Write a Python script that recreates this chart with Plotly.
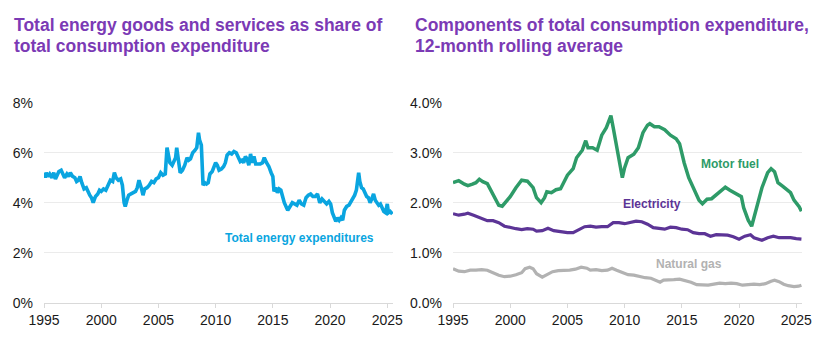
import plotly.graph_objects as go

# ---------------- Data ----------------
# Left panel: total energy goods & services share of total consumption expenditure (%)
total_years = [
    1995.0, 1995.1, 1995.2, 1995.35, 1995.5, 1995.7, 1995.85, 1996.0, 1996.15, 1996.3, 1996.5, 1996.65, 1996.8,
    1997.0, 1997.15, 1997.3, 1997.5, 1997.7, 1997.85, 1998.0, 1998.15, 1998.3, 1998.5, 1998.7, 1998.85,
    1999.0, 1999.15, 1999.3, 1999.5, 1999.7, 1999.85, 2000.0, 2000.2, 2000.4, 2000.6, 2000.8, 2001.0,
    2001.15, 2001.3, 2001.5, 2001.7, 2001.85, 2002.0, 2002.1, 2002.25, 2002.4, 2002.6, 2002.8, 2003.0,
    2003.15, 2003.3, 2003.5, 2003.65, 2003.8, 2004.0, 2004.2, 2004.4, 2004.6, 2004.8, 2005.0, 2005.2,
    2005.4, 2005.6, 2005.75, 2005.85, 2006.0, 2006.2, 2006.35, 2006.5, 2006.6, 2006.75, 2006.9, 2007.1,
    2007.3, 2007.5, 2007.65, 2007.8, 2008.0, 2008.2, 2008.35, 2008.5, 2008.6, 2008.75, 2008.9, 2009.05,
    2009.2, 2009.35, 2009.5, 2009.7, 2009.85, 2010.0, 2010.15, 2010.3, 2010.5, 2010.7, 2010.85, 2011.0,
    2011.2, 2011.4, 2011.6, 2011.8, 2012.0, 2012.15, 2012.3, 2012.45, 2012.6, 2012.75, 2012.9, 2013.05,
    2013.2, 2013.35, 2013.5, 2013.7, 2013.9, 2014.1, 2014.25, 2014.45, 2014.65, 2014.85, 2015.0, 2015.1,
    2015.25, 2015.4, 2015.55, 2015.7, 2015.85, 2016.0, 2016.15, 2016.3, 2016.5, 2016.7, 2016.9, 2017.1,
    2017.3, 2017.5, 2017.7, 2017.9, 2018.1, 2018.3, 2018.5, 2018.7, 2018.9, 2019.1, 2019.3, 2019.5,
    2019.7, 2019.9, 2020.05, 2020.2, 2020.35, 2020.5, 2020.65, 2020.8, 2020.95, 2021.1, 2021.25, 2021.45,
    2021.65, 2021.85, 2022.0, 2022.15, 2022.3, 2022.4, 2022.5, 2022.6, 2022.75, 2022.9, 2023.05, 2023.2,
    2023.35, 2023.5, 2023.65, 2023.8, 2023.95, 2024.1, 2024.25, 2024.4, 2024.55, 2024.7, 2024.85, 2025.0,
    2025.1, 2025.25, 2025.35, 2025.45,
]
total_share = [
    5.2, 5.0, 5.2, 5.05, 5.15, 5.0, 5.2, 4.95, 5.1, 5.25, 5.3, 5.1, 5.0,
    5.15, 5.05, 5.2, 5.05, 5.0, 4.85, 4.9, 5.05, 4.8, 4.55, 4.6, 4.4,
    4.3, 4.2, 4.0, 4.25, 4.35, 4.5, 4.45, 4.55, 4.5, 4.7, 4.9, 4.85,
    5.2, 5.0, 4.9, 4.95, 4.7, 4.0, 3.85, 4.1, 4.3, 4.35, 4.4, 4.45,
    4.6, 4.9, 4.6, 4.3, 4.55, 4.6, 4.7, 4.85, 4.8, 4.95, 5.0, 5.2,
    5.1, 5.15, 6.2, 5.9, 5.6, 5.5, 5.7, 5.8, 6.2, 5.7, 5.2, 5.3,
    5.5, 5.8, 5.7, 5.75, 6.0, 6.1, 6.2, 6.8, 6.5, 6.3, 4.7, 4.8,
    4.75, 4.8, 5.15, 5.25, 5.4, 5.6, 5.5, 5.3, 5.35, 5.45, 5.6, 5.9,
    6.0, 5.95, 6.05, 6.0, 5.8, 5.65, 5.7, 5.6, 5.85, 5.75, 5.5, 5.95,
    5.6, 5.85, 5.55, 5.55, 5.55, 5.6, 5.8, 5.6, 5.45, 5.2, 5.05, 4.45,
    4.6, 4.4, 4.55, 4.5, 4.2, 4.0, 3.85, 3.7, 3.85, 4.0, 3.95, 3.9,
    4.1, 3.95, 3.9, 4.2, 4.3, 4.35, 4.25, 4.25, 4.35, 4.0, 4.15, 4.05,
    3.95, 4.05, 3.95, 3.6, 3.4, 3.25, 3.4, 3.3, 3.4, 3.3, 3.7, 3.85,
    3.9, 4.05, 4.15, 4.3, 4.5, 4.9, 5.2, 4.85, 4.6, 4.55, 4.4, 4.25,
    4.2, 4.0, 4.15, 4.35, 4.1, 4.0, 3.9, 3.95, 3.75, 3.65, 3.6, 3.95,
    3.6, 3.65, 3.6, 3.55,
]

# Right panel: components, 12-month rolling average (%)
fuel_years = [
    1995.0, 1995.5, 1996.0, 1996.3, 1996.7, 1997.0, 1997.3, 1997.6, 1998.0, 1998.5, 1999.0, 1999.3,
    2000.0, 2000.5, 2001.0, 2001.5, 2002.0, 2002.3, 2002.7, 2003.0, 2003.2, 2003.6, 2004.0, 2004.4,
    2005.0, 2005.5, 2005.8, 2006.3, 2006.6, 2006.8, 2007.2, 2007.6, 2008.0, 2008.4, 2008.8, 2009.0,
    2009.5, 2009.8, 2010.0, 2010.3, 2010.8, 2011.2, 2011.6, 2012.0, 2012.2, 2012.6, 2013.0, 2013.5,
    2014.0, 2014.5, 2014.8, 2015.2, 2015.6, 2016.0, 2016.5, 2016.8, 2017.2, 2017.6, 2018.0, 2018.4,
    2018.8, 2019.2, 2019.6, 2020.0, 2020.2, 2020.4, 2020.8, 2021.1, 2021.5, 2022.0, 2022.5, 2022.8,
    2023.1, 2023.4, 2023.8, 2024.2, 2024.5, 2024.8, 2025.0, 2025.25, 2025.45,
]
fuel_share = [
    2.40, 2.44, 2.37, 2.34, 2.37, 2.40, 2.47, 2.42, 2.38, 2.15, 1.95, 1.93,
    2.12, 2.30, 2.45, 2.43, 2.30, 2.10, 2.00, 2.10, 2.22, 2.20, 2.26, 2.28,
    2.55, 2.68, 2.90, 3.05, 3.24, 3.10, 3.10, 3.05, 3.35, 3.50, 3.74, 3.50,
    2.90, 2.50, 2.70, 2.90, 2.97, 3.10, 3.40, 3.55, 3.58, 3.52, 3.52, 3.46,
    3.35, 3.28, 3.18, 2.80, 2.50, 2.28, 2.05, 1.98, 2.07, 2.08, 2.16, 2.22,
    2.31, 2.25, 2.20, 2.15, 2.12, 1.90, 1.65, 1.53, 1.90, 2.30, 2.60, 2.68,
    2.62, 2.40, 2.33, 2.25, 2.20, 2.05, 2.00, 1.92, 1.83,
]

elec_years = [
    1995.0, 1995.5, 1996.0, 1996.3, 1996.8, 1997.3, 1998.0, 1998.5, 1999.0, 1999.5, 2000.0, 2000.5,
    2001.0, 2001.5, 2002.0, 2002.3, 2002.8, 2003.3, 2003.8, 2004.5, 2005.0, 2005.5, 2006.0, 2006.5,
    2007.0, 2007.5, 2008.0, 2008.5, 2009.0, 2009.5, 2010.0, 2010.5, 2011.0, 2011.5, 2012.0, 2012.5,
    2013.0, 2013.5, 2014.0, 2014.5, 2015.0, 2015.5, 2016.0, 2016.5, 2017.0, 2017.5, 2018.0, 2018.5,
    2019.0, 2019.5, 2020.0, 2020.5, 2021.0, 2021.3, 2021.8, 2022.0, 2022.5, 2023.0, 2023.5, 2024.0,
    2024.5, 2025.0, 2025.45,
]
elec_share = [
    1.78, 1.75, 1.77, 1.79, 1.75, 1.70, 1.64, 1.64, 1.60, 1.53, 1.50, 1.48,
    1.46, 1.48, 1.47, 1.43, 1.44, 1.49, 1.44, 1.41, 1.40, 1.40, 1.46, 1.52,
    1.53, 1.51, 1.52, 1.52, 1.60, 1.60, 1.58, 1.60, 1.63, 1.62, 1.57, 1.50,
    1.48, 1.47, 1.51, 1.50, 1.47, 1.46, 1.40, 1.38, 1.38, 1.33, 1.36, 1.36,
    1.35, 1.32, 1.27, 1.33, 1.36, 1.30, 1.26, 1.25, 1.30, 1.33, 1.30, 1.30,
    1.30, 1.28, 1.27,
]

gas_years = [
    1995.0, 1995.5, 1996.0, 1996.5, 1997.0, 1997.5, 1998.0, 1998.5, 1999.0, 1999.5, 2000.0, 2000.5,
    2001.0, 2001.3, 2001.7, 2002.0, 2002.3, 2002.8, 2003.2, 2003.7, 2004.2, 2004.7, 2005.2, 2005.7,
    2006.2, 2006.7, 2007.0, 2007.5, 2008.0, 2008.5, 2008.9, 2009.3, 2009.8, 2010.3, 2010.8, 2011.3,
    2011.8, 2012.3, 2012.8, 2013.1, 2013.4, 2013.8, 2014.3, 2014.8, 2015.3, 2015.8, 2016.3, 2016.8,
    2017.3, 2017.8, 2018.3, 2018.8, 2019.3, 2019.8, 2020.3, 2020.8, 2021.3, 2021.8, 2022.3, 2022.8,
    2023.1, 2023.5, 2023.9, 2024.3, 2024.8, 2025.2, 2025.45,
]
gas_share = [
    0.68, 0.63, 0.62, 0.65, 0.65, 0.66, 0.65, 0.60, 0.55, 0.52, 0.53, 0.56,
    0.60, 0.68, 0.71, 0.68, 0.58, 0.51, 0.56, 0.62, 0.64, 0.64, 0.65, 0.67,
    0.71, 0.69, 0.65, 0.66, 0.64, 0.65, 0.69, 0.65, 0.60, 0.56, 0.55, 0.52,
    0.50, 0.49, 0.44, 0.41, 0.45, 0.45, 0.46, 0.47, 0.44, 0.41, 0.36, 0.35,
    0.35, 0.37, 0.39, 0.38, 0.39, 0.38, 0.35, 0.36, 0.37, 0.36, 0.38, 0.43,
    0.45, 0.42, 0.37, 0.34, 0.32, 0.33, 0.35,
]

left_ticks = [0, 2, 4, 6, 8]
left_tick_labels = ["0%", "2%", "4%", "6%", "8%"]
right_ticks = [0, 1, 2, 3, 4]
right_tick_labels = ["0.0%", "1.0%", "2.0%", "3.0%", "4.0%"]
year_ticks = [1995, 2000, 2005, 2010, 2015, 2020, 2025]

# ---------------- Styles ----------------
FONT = "Liberation Sans, Arial, sans-serif"
TITLE_COLOR = "#7B3AB5"
BLUE = "#0AA5E0"
GREEN = "#2E9B68"
PURPLE = "#5C3496"
GREY = "#B2B2B2"
GRID = "#EBEBEB"

# The page body adds an 8px offset; lay out on an 818x348 canvas.
OFF = 8
W, H = 826 - OFF, 356 - OFF

def fx(px):
    return (px - OFF) / W

def fy(py):
    return 1 - (py - OFF) / H

fig = go.Figure()
fig.add_trace(go.Scatter(x=total_years, y=total_share, mode="lines",
                         line=dict(color=BLUE, width=3.6), xaxis="x", yaxis="y",
                         hoverinfo="skip", showlegend=False))
fig.add_trace(go.Scatter(x=gas_years, y=gas_share, mode="lines",
                         line=dict(color=GREY, width=3.2), xaxis="x2", yaxis="y2",
                         hoverinfo="skip", showlegend=False))
fig.add_trace(go.Scatter(x=elec_years, y=elec_share, mode="lines",
                         line=dict(color=PURPLE, width=3.2), xaxis="x2", yaxis="y2",
                         hoverinfo="skip", showlegend=False))
fig.add_trace(go.Scatter(x=fuel_years, y=fuel_share, mode="lines",
                         line=dict(color=GREEN, width=3.5), xaxis="x2", yaxis="y2",
                         hoverinfo="skip", showlegend=False))

xaxis_common = dict(range=[1995, 2025.5], tickvals=year_ticks, ticktext=[str(t) for t in year_ticks],
                    showgrid=False, zeroline=False, showline=True, linecolor="#D9D9D9", linewidth=1,
                    ticks="outside", ticklen=4, tickcolor="#D9D9D9", automargin=False,
                    tickfont=dict(family=FONT, size=14, color="#1a1a1a"), fixedrange=True)
yaxis_common = dict(showgrid=True, gridcolor=GRID, gridwidth=1, zeroline=False, showline=False,
                    ticks="", ticklabelstandoff=10, automargin=False,
                    tickfont=dict(family=FONT, size=14, color="#1a1a1a"), fixedrange=True)

YDOM = [fy(302.7), fy(102.7)]
fig.update_layout(
    width=W, height=H,
    margin=dict(l=0, r=0, t=0, b=0, autoexpand=False),
    paper_bgcolor="white", plot_bgcolor="white",
    xaxis=dict(domain=[fx(44), fx(393)], anchor="y", **xaxis_common),
    yaxis=dict(domain=YDOM, anchor="x", range=[0, 8], tickvals=left_ticks, ticktext=left_tick_labels,
               **yaxis_common),
    xaxis2=dict(domain=[fx(453), fx(802)], anchor="y2", **xaxis_common),
    yaxis2=dict(domain=YDOM, anchor="x2", range=[0, 4], tickvals=right_ticks, ticktext=right_tick_labels,
                **yaxis_common),
)

def title_line(text, x_px, y_px):
    fig.add_annotation(text=f"<b>{text}</b>", xref="paper", yref="paper",
                       x=fx(x_px), y=fy(y_px), xanchor="left", yanchor="middle",
                       showarrow=False, font=dict(family=FONT, size=17.5, color=TITLE_COLOR))

title_line("Total energy goods and services as share of", 12, 25)
title_line("total consumption expenditure", 12, 46)
title_line("Components of total consumption expenditure,", 413, 25)
title_line("12-month rolling average", 413, 46)

def series_label(text, color, x, y, xref, yref):
    fig.add_annotation(text=f"<b>{text}</b>", xref=xref, yref=yref, x=x, y=y,
                       xanchor="center", yanchor="middle", showarrow=False,
                       font=dict(family=FONT, size=12, color=color))

series_label("Total energy expenditures", BLUE, 2017.3, 2.6, "x", "y")
series_label("Motor fuel", GREEN, 2019.2, 2.77, "x2", "y2")
series_label("Electricity", PURPLE, 2012.4, 1.98, "x2", "y2")
series_label("Natural gas", GREY, 2015.6, 0.78, "x2", "y2")

fig.write_html("out.html")
